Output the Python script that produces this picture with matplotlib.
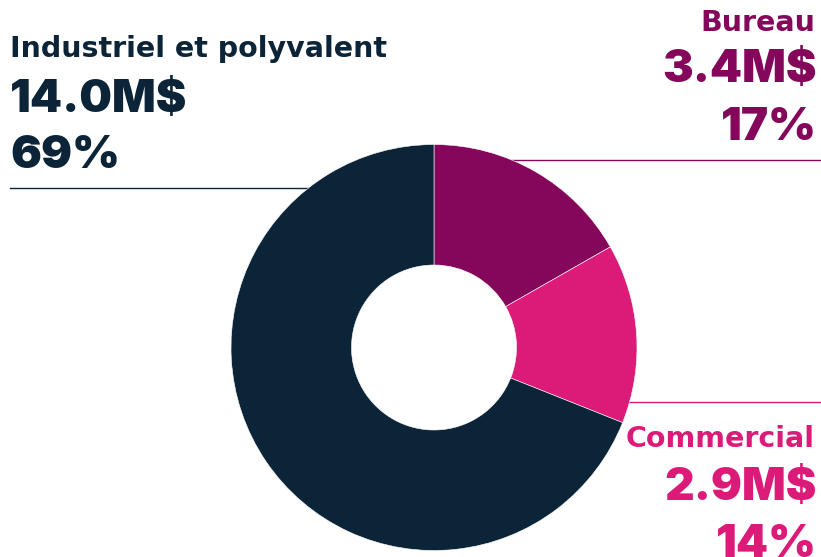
import matplotlib.pyplot as plt

# Portfolio split by property type (millions of $)
categories = ["Bureau", "Commercial", "Industriel et polyvalent"]
values = [3.4, 2.9, 14.0]
colors = ["#85075B", "#DC1B78", "#0B2438"]

W, H = 821, 557

fig = plt.figure(figsize=(W / 100, H / 100), dpi=100)
ax = fig.add_axes([0, 0, 1, 1])

cx, cy = 434, H - 347.5
r_out, r_in = 203, 82.5

# leader lines sit behind the donut
ax.plot([10, 320], [H - 187.5, H - 187.5], color="#0B2438", lw=1, zorder=1)
ax.plot([434, W], [H - 159.5, H - 159.5], color="#85075B", lw=1, zorder=1)
ax.plot([600, W], [H - 401.5, H - 401.5], color="#DC1B78", lw=1, zorder=1)

wedges, _ = ax.pie(
    values,
    colors=colors,
    startangle=90,
    counterclock=False,
    center=(cx, cy),
    radius=r_out,
    wedgeprops=dict(width=r_out - r_in, edgecolor="white", linewidth=0.4),
    frame=True,
)
for w in wedges:
    w.set_zorder(2)
ax.set_xlim(0, W)
ax.set_ylim(0, H)
ax.set_aspect("equal")
ax.axis("off")

total = sum(values)
pcts = [f"{round(v / total * 100)}%" for v in values]
amounts = [f"{v:.1f}M$" for v in values]


def label_block(x, ys, idx, ha, dx=0):
    # category name in DejaVu, figures in a heavier Inter
    ax.text(x, H - ys[0], categories[idx], fontsize=20.5, fontweight="bold",
            family=["DejaVu Sans"], color=colors[idx], ha=ha, va="baseline")
    for t, y in zip([amounts[idx], pcts[idx]], ys[1:]):
        ax.text(x + dx, H - y, t, fontsize=33, fontweight="black",
                family=["Inter", "DejaVu Sans"], color=colors[idx],
                ha=ha, va="baseline")


label_block(10, [57, 112, 168], 2, "left")
label_block(815, [31, 82, 140], 0, "right", dx=2)
label_block(815, [447, 500, 557], 1, "right", dx=2)

fig.savefig("out.png", dpi=100, facecolor="white")
